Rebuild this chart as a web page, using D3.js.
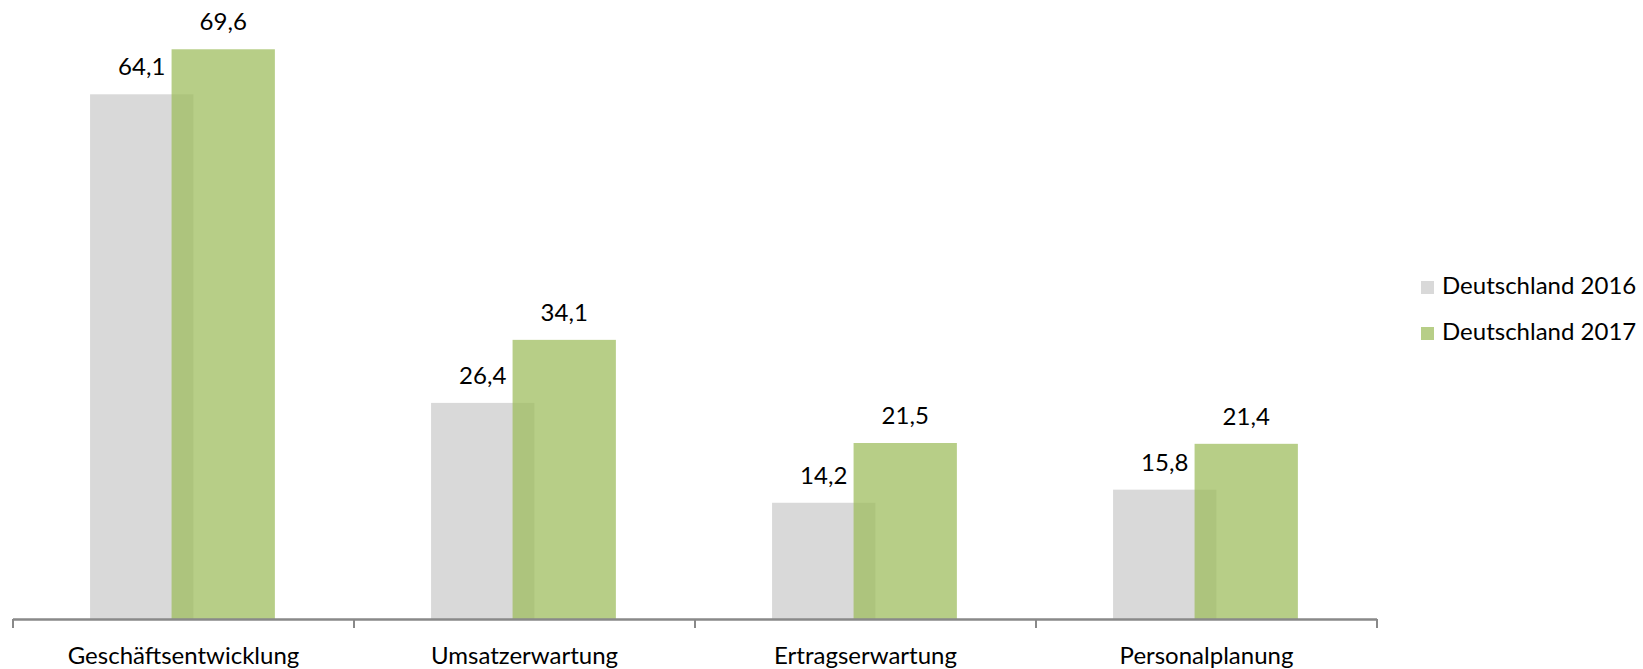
<!DOCTYPE html>
<html>
<head>
<meta charset="utf-8">
<script src="https://cdn.jsdelivr.net/npm/d3@7"></script>
<style>
  html, body { margin: 0; padding: 0; background: #fff; }
  svg { display: block; }
  text { font-family: Lato, "Open Sans", sans-serif; fill: #000; }
</style>
</head>
<body>
<svg id="chart" width="1643" height="669"></svg>
<script>
const categories = ["Geschäftsentwicklung", "Umsatzerwartung", "Ertragserwartung", "Personalplanung"];
const seriesNames = ["Deutschland 2016", "Deutschland 2017"];
const values2016 = [64.1, 26.4, 14.2, 15.8];
const values2017 = [69.6, 34.1, 21.5, 21.4];
const seriesColors = ["#d9d9d9", "#9bbb59"];
const seriesOpacity = [1, 0.72];

const W = 1643, H = 669;
const svg = d3.select("#chart");
const fontSize = 24;

const x = d3.scaleBand().domain(categories).range([13, 1377]).paddingInner(0).paddingOuter(0);
const y = d3.scaleLinear().domain([0, 70]).range([619, 46]);

const bw = x.bandwidth();
const barW = bw * 0.303;
const offsets = [bw * 0.226, bw * 0.465];

const series = [values2016, values2017];

series.forEach((vals, si) => {
  const g = svg.append("g");
  g.selectAll("rect")
    .data(categories.map((c, i) => ({ c, v: vals[i] })))
    .join("rect")
    .attr("x", d => x(d.c) + offsets[si])
    .attr("y", d => y(d.v))
    .attr("width", barW)
    .attr("height", d => y(0) - y(d.v))
    .attr("fill", seriesColors[si])
    .attr("fill-opacity", seriesOpacity[si]);
});

series.forEach((vals, si) => {
  svg.append("g").selectAll("text")
    .data(categories.map((c, i) => ({ c, v: vals[i] })))
    .join("text")
    .attr("x", d => x(d.c) + offsets[si] + barW / 2)
    .attr("y", d => y(d.v) - 19)
    .attr("text-anchor", "middle")
    .attr("font-size", fontSize)
    .text(d => d3.format(".1f")(d.v).replace(".", ","));
});

// axis
const axisG = svg.append("g").attr("transform", `translate(0,${y(0)})`);
axisG.call(d3.axisBottom(x).tickSize(0).tickPadding(28))
  .call(g => g.select(".domain").remove())
  .call(g => g.selectAll("text")
    .attr("font-size", fontSize)
    .attr("font-family", "Lato, 'Open Sans', sans-serif")
    .attr("fill", "#000"));

axisG.append("line")
  .attr("x1", x.range()[0]).attr("x2", x.range()[1])
  .attr("y1", 0.5).attr("y2", 0.5)
  .attr("stroke", "#898989").attr("stroke-width", 2.5);

const boundaries = categories.map(c => x(c)).concat([x.range()[1]]);
axisG.selectAll("line.tick-b")
  .data(boundaries)
  .join("line")
  .attr("class", "tick-b")
  .attr("x1", d => d).attr("x2", d => d)
  .attr("y1", 0).attr("y2", 9)
  .attr("stroke", "#898989").attr("stroke-width", 2);

// legend
const legend = svg.append("g").attr("transform", "translate(1421,281)");
seriesNames.forEach((name, i) => {
  const row = legend.append("g").attr("transform", `translate(0,${i * 46})`);
  row.append("rect").attr("width", 13).attr("height", 13)
    .attr("fill", seriesColors[i]).attr("fill-opacity", seriesOpacity[i]);
  row.append("text").attr("x", 21).attr("y", 12.5)
    .attr("font-size", fontSize).text(name);
});
</script>
</body>
</html>
